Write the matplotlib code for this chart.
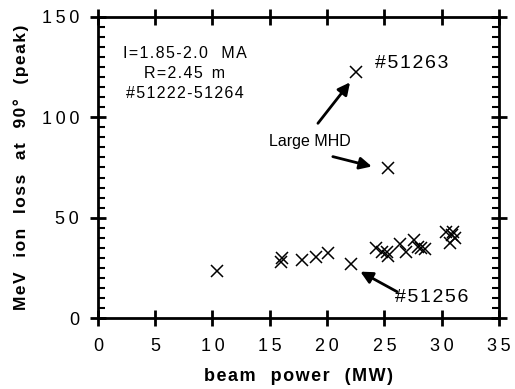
import matplotlib
matplotlib.use('Agg')
import matplotlib.pyplot as plt
from matplotlib.ticker import MultipleLocator, FuncFormatter

plt.rcParams['font.family'] = ['Liberation Sans', 'DejaVu Sans']

# shots in the scan: beam power (MW) vs MeV ion loss at 90 deg (peak)
beam_power = [10.4, 16.0, 16.1, 17.8, 19.0, 20.1, 22.1, 24.3, 24.8, 25.2, 25.3,
              26.4, 26.9, 27.6, 27.9, 28.2, 28.5, 30.4, 30.7, 30.9, 31.0, 31.2]
ion_loss = [23.4, 28.0, 29.9, 29.0, 30.5, 32.3, 26.9, 34.7, 33.0, 33.0, 30.7,
            37.0, 33.0, 38.8, 35.5, 34.7, 34.2, 43.0, 37.2, 41.4, 43.0, 39.7]

# the two large-MHD shots
mhd_power = [22.5, 25.3]
mhd_loss = [122.7, 74.9]

x_ticks = [0, 5, 10, 15, 20, 25, 30, 35]
y_ticks = [0, 50, 100, 150]


def spread(s, sep='\u200a'):
    # widen the lettering a bit, like the old typeset plots
    out = ''
    for i, ch in enumerate(s):
        out += ch
        if i < len(s) - 1 and ch != ' ' and s[i + 1] != ' ':
            out += sep
    return out


fig = plt.figure(figsize=(5.15, 3.89), dpi=100)
ax = fig.add_axes([0.190, 0.1825, 0.779, 0.774])

ax.plot(beam_power, ion_loss, linestyle='none', marker='x', markersize=8,
        markeredgewidth=1.1, color='black')
ax.plot(mhd_power, mhd_loss, linestyle='none', marker='x', markersize=8,
        markeredgewidth=1.1, color='black')

ax.set_xlim(0, 35)
ax.set_ylim(0, 150)
ax.set_xticks(x_ticks)
ax.set_yticks(y_ticks)
ax.yaxis.set_minor_locator(MultipleLocator(5))
tick_fmt = FuncFormatter(lambda v, pos: spread('%d' % v, '\u2009'))
ax.xaxis.set_major_formatter(tick_fmt)
ax.yaxis.set_major_formatter(tick_fmt)

for side in ['left', 'right', 'top', 'bottom']:
    ax.spines[side].set_linewidth(2.0)

ax.tick_params(which='major', direction='inout', length=11, width=2.0,
               top=True, right=True, labelsize=13, pad=8)
ax.tick_params(axis='x', which='major', pad=9)
ax.tick_params(which='minor', direction='in', length=5, width=1.5,
               left=True, right=True)
ax.tick_params(axis='x', which='minor', bottom=False, top=False)

ax.set_xlabel(spread('beam   power   (MW)'), fontsize=13, fontweight='bold',
              labelpad=9)
ax.set_ylabel(spread('MeV   ion   loss   at   90°   (peak)'), fontsize=12.5,
              fontweight='bold', labelpad=9)

ax.text(7.6, 132, spread('I=1.85-2.0   MA'), ha='center', va='center', fontsize=11.5)
ax.text(7.6, 122, spread('R=2.45  m'), ha='center', va='center', fontsize=11.5)
ax.text(7.6, 112, spread('#51222-51264'), ha='center', va='center', fontsize=11.5)

arrow = dict(arrowstyle='-|>', lw=2, color='black', mutation_scale=18,
             shrinkA=0, shrinkB=0)

ax.text(24.2, 127, spread('#51263'), ha='left', va='center', fontsize=14)
ax.text(18.5, 88, 'Large MHD', ha='center', va='center', fontsize=11.5)
ax.annotate('', xy=(22.0, 117.4), xytext=(19.2, 97), arrowprops=arrow)
ax.annotate('', xy=(23.9, 75.5), xytext=(20.5, 80.4), arrowprops=arrow)

ax.text(25.9, 10, spread('#51256'), ha='left', va='center', fontsize=14)
ax.annotate('', xy=(22.9, 23.1), xytext=(26.1, 13.1), arrowprops=arrow)

fig.savefig('out.png', dpi=100)
